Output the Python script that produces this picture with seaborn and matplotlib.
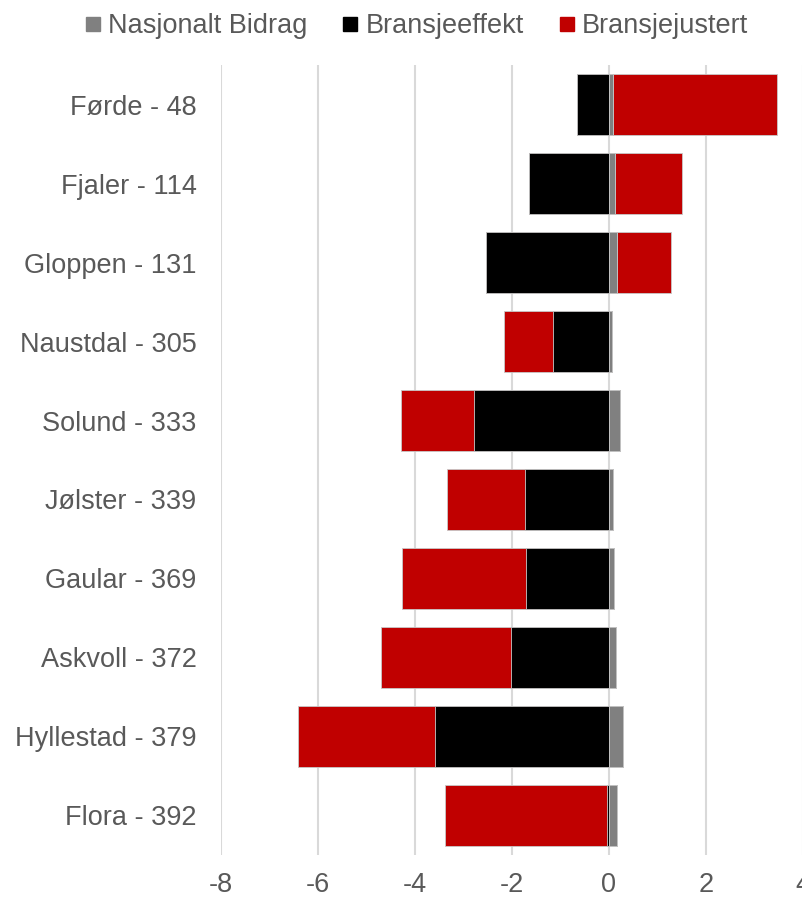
import numpy as np
import pandas as pd
import seaborn as sns
import matplotlib.pyplot as plt
from matplotlib.lines import Line2D

kommuner = ["Førde - 48", "Fjaler - 114", "Gloppen - 131", "Naustdal - 305", "Solund - 333",
            "Jølster - 339", "Gaular - 369", "Askvoll - 372", "Hyllestad - 379", "Flora - 392"]
nasjonalt = [0.09, 0.13, 0.17, 0.06, 0.23, 0.08, 0.10, 0.14, 0.29, 0.17]
bransjeeffekt = [-0.65, -1.65, -2.54, -1.14, -2.78, -1.73, -1.70, -2.02, -3.59, -0.04]
bransjejustert = [3.37, 1.38, 1.11, -1.02, -1.50, -1.61, -2.56, -2.67, -2.82, -3.34]
x_ticks = [-8, -6, -4, -2, 0, 2, 4]

GREY, BLACK, RED = "#808080", "#000000", "#C00000"
TXT = "#595959"

sns.set_style("white")
plt.rcParams["font.family"] = ["Liberation Sans", "DejaVu Sans"]

g = np.array(nasjonalt)
b = np.array(bransjeeffekt)
r = np.array(bransjejustert)

# stacked ends, built so the longest bar is drawn first and covered by the shorter ones
df = pd.DataFrame({
    "kommune": kommuner,
    "pos_red": g + b.clip(min=0) + r.clip(min=0),
    "pos_black": g + b.clip(min=0),
    "pos_grey": g,
    "neg_red": b.clip(max=0) + r.clip(max=0),
    "neg_black": b.clip(max=0),
})

fig = plt.figure(figsize=(8.02, 8.98), dpi=100)
ax = fig.add_axes([0.2752, 0.0479, 0.7258, 0.8797])

bar_kw = dict(y="kommune", order=kommuner, orient="h", width=0.77,
              edgecolor="#c8c8c8", linewidth=0.6, ax=ax, zorder=3)
sns.barplot(data=df, x="pos_red", color=RED, saturation=1, **bar_kw)
sns.barplot(data=df, x="neg_red", color=RED, saturation=1, **bar_kw)
sns.barplot(data=df, x="pos_black", color=BLACK, saturation=1, **bar_kw)
sns.barplot(data=df, x="neg_black", color=BLACK, saturation=1, **bar_kw)
sns.barplot(data=df, x="pos_grey", color=GREY, saturation=1, **bar_kw)

ax.set_xlim(-8, 4)
ax.set_ylim(len(kommuner) - 0.5, -0.5)
ax.set_xticks(x_ticks)
ax.set_xticklabels([str(t) for t in x_ticks])
ax.xaxis.grid(True, color="#d9d9d9", linewidth=1.5, zorder=0)
ax.yaxis.grid(False)
ax.set_axisbelow(True)
for s in ax.spines.values():
    s.set_visible(False)
ax.set_xlabel("")
ax.set_ylabel("")
ax.tick_params(axis="both", length=0, labelsize=19.5, labelcolor=TXT)
ax.tick_params(axis="y", pad=17.5)
ax.tick_params(axis="x", pad=12)

handles = [Line2D([], [], marker="s", linestyle="", markersize=9.5, color=c)
           for c in (GREY, BLACK, RED)]
fig.legend(handles, ["Nasjonalt Bidrag", "Bransjeeffekt", "Bransjejustert"],
           loc="center", bbox_to_anchor=(0.52, 0.971), ncol=3, frameon=False,
           fontsize=19.5, labelcolor=TXT, handlelength=0.5, handletextpad=0.3,
           columnspacing=1.35, borderpad=0)

plt.savefig("out.png", dpi=100)
